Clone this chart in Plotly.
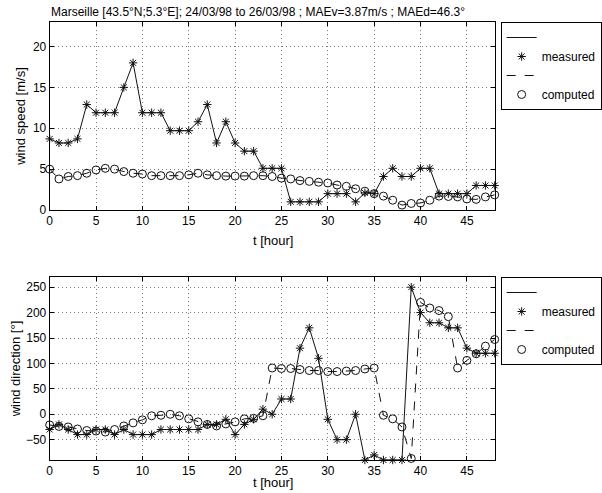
import plotly.graph_objects as go

# ---------------- data ----------------
hours = list(range(0, 49))

speed_measured = [8.7, 8.2, 8.2, 8.7, 12.9, 11.9, 11.9, 11.9, 15.0, 18.0,
                  11.9, 11.9, 11.9, 9.7, 9.7, 9.7, 10.8, 12.9, 8.2, 10.8,
                  8.2, 7.2, 7.2, 5.1, 5.1, 5.1, 1.0, 1.0, 1.0, 1.0,
                  2.0, 2.0, 2.0, 1.0, 2.1, 2.0, 4.1, 5.1, 4.1, 4.1,
                  5.1, 5.1, 2.0, 2.0, 2.0, 2.0, 3.0, 3.0, 3.0]

speed_computed = [5.0, 3.8, 4.1, 4.2, 4.5, 4.9, 5.1, 5.0, 4.7, 4.5,
                  4.4, 4.2, 4.2, 4.2, 4.2, 4.3, 4.5, 4.3, 4.2, 4.15,
                  4.15, 4.15, 4.2, 4.2, 4.1, 3.9, 3.8, 3.6, 3.5, 3.4,
                  3.3, 3.05, 2.9, 2.6, 2.3, 2.0, 1.7, 1.2, 0.6, 0.8,
                  0.85, 1.2, 1.7, 1.65, 1.6, 1.35, 1.3, 1.6, 1.85]

dir_measured = [-30, -20, -30, -40, -40, -30, -30, -40, -30, -40,
                -40, -40, -30, -30, -30, -30, -30, -20, -20, -10,
                -40, -20, -10, 10, 0, 30, 30, 130, 170, 110,
                -10, -50, -50, 0, -90, -80, -90, -90, -90, 250,
                200, 180, 180, 170, 170, 130, 120, 120, 120]

dir_computed = [-21, -24, -25, -29, -32, -33, -35, -30, -23, -17,
                -11, -3, -2, 0, -3, -9, -15, -20, -23, -19,
                -15, -9, -8, -3, 91, 90, 90, 88, 86, 86,
                84, 84, 85, 86, 89, 91, -2, -9, -25, -87,
                220, 209, 204, 192, 91, 106, 119, 134, 147]

title_text = "Marseille [43.5°N;5.3°E]; 24/03/98 to 26/03/98 ; MAEv=3.87m/s ; MAEd=46.3°"
x_title = "t [hour]"
x_ticks = [0, 5, 10, 15, 20, 25, 30, 35, 40, 45]
speed_ticks = [0, 5, 10, 15, 20]
dir_ticks = [-50, 0, 50, 100, 150, 200, 250]

# ---------------- figure ----------------
W, H = 602, 493
FONT = "Liberation Sans, Arial, sans-serif"

fig = go.Figure()

def add_set(xa, ya, meas, comp, legend):
    fig.add_trace(go.Scatter(x=hours, y=meas, mode="lines", name=" ",
                             line=dict(color="#111111", width=1),
                             xaxis=xa, yaxis=ya, legend=legend))
    fig.add_trace(go.Scatter(x=hours, y=meas, mode="markers", name="measured",
                             cliponaxis=False,
                             marker=dict(symbol="asterisk-open", size=7, color="#111111",
                                         line=dict(color="#111111", width=1)),
                             xaxis=xa, yaxis=ya, legend=legend))
    fig.add_trace(go.Scatter(x=hours, y=comp, mode="lines", name=" ",
                             line=dict(color="#111111", width=1, dash="dash"),
                             xaxis=xa, yaxis=ya, legend=legend))
    fig.add_trace(go.Scatter(x=hours, y=comp, mode="markers", name="computed",
                             cliponaxis=False,
                             marker=dict(symbol="circle-open", size=8, color="#111111",
                                         line=dict(color="#111111", width=1)),
                             xaxis=xa, yaxis=ya, legend=legend))

add_set("x", "y", speed_measured, speed_computed, "legend")
add_set("x2", "y2", dir_measured, dir_computed, "legend2")

xl, xr = 50 / W, 498 / W
top_dom = [1 - 210 / H, 1 - 22 / H]
bot_dom = [1 - 460 / H, 1 - 277 / H]

axis_common = dict(showline=True, linecolor="black", linewidth=1, mirror="ticks",
                   ticks="inside", ticklen=4, tickcolor="black",
                   showgrid=True, gridcolor="#7a7a7a", griddash="1px,3px", gridwidth=1,
                   zeroline=False, automargin=False,
                   tickfont=dict(family=FONT, size=12, color="black"))
title_font = dict(family=FONT, size=13, color="black")

fig.update_layout(
    width=W, height=H,
    margin=dict(l=0, r=0, t=0, b=0),
    paper_bgcolor="white", plot_bgcolor="white",
    font=dict(family=FONT, size=12, color="black"),
    title=dict(text=title_text, x=258 / W, xanchor="center", y=1 - 12 / H,
               yanchor="middle", font=dict(family=FONT, size=12, color="black")),
    xaxis=dict(domain=[xl, xr], range=[0, 48], tickvals=x_ticks, anchor="y",
               **axis_common),
    yaxis=dict(domain=top_dom, range=[0, 23], tickvals=speed_ticks, anchor="x",
               title=dict(text="wind speed [m/s]", standoff=4, font=title_font),
               **axis_common),
    xaxis2=dict(domain=[xl, xr], range=[0, 48], tickvals=x_ticks, anchor="y2",
                **axis_common),
    yaxis2=dict(domain=bot_dom, range=[-90, 270], tickvals=dir_ticks, anchor="x2",
                title=dict(text="wind direction [°]", standoff=2, font=title_font),
                **axis_common),
    legend=dict(x=504 / W, y=1 - 22 / H, xanchor="left", yanchor="top",
                bordercolor="black", borderwidth=1, bgcolor="white",
                font=dict(family=FONT, size=12), itemwidth=30,
                tracegroupgap=0),
    legend2=dict(x=504 / W, y=1 - 277 / H, xanchor="left", yanchor="top",
                 bordercolor="black", borderwidth=1, bgcolor="white",
                 font=dict(family=FONT, size=12), itemwidth=30,
                 tracegroupgap=0),
)

# x-axis titles placed as annotations for exact vertical position
fig.add_annotation(text=x_title, xref="paper", yref="paper",
                   x=275 / W, y=1 - 240 / H, xanchor="center", yanchor="middle",
                   showarrow=False, font=title_font)
fig.add_annotation(text=x_title, xref="paper", yref="paper",
                   x=275 / W, y=1 / H, xanchor="center", yanchor="bottom",
                   showarrow=False, font=title_font)

fig.write_html("out.html",
               config={"displayModeBar": False},
               post_script="document.body.style.margin='0';document.body.style.padding='0';")
